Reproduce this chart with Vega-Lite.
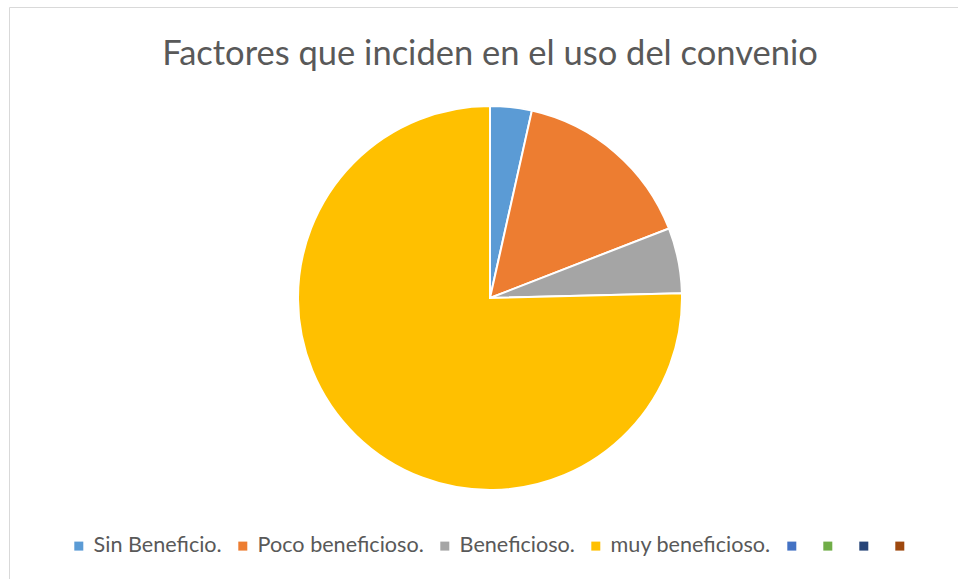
{
  "$schema": "https://vega.github.io/schema/vega-lite/v6.json",
  "autosize": {"type": "none"},
  "padding": {"left": 9, "top": 7, "right": 0, "bottom": 0},
  "width": 962,
  "height": 582,
  "background": "white",
  "view": {"stroke": "#D9D9D9", "strokeWidth": 1},
  "title": {
    "text": "Factores que inciden en el uso del convenio",
    "font": "Lato",
    "fontSize": 34.5,
    "fontWeight": "normal",
    "color": "#595959",
    "anchor": "middle",
    "baseline": "alphabetic",
    "offset": -92
  },
  "data": {
    "values": [
      {"idx": 1, "cat": "Sin Beneficio.", "val": 3.5},
      {"idx": 2, "cat": "Poco beneficioso.", "val": 15.6},
      {"idx": 3, "cat": "Beneficioso.", "val": 5.5},
      {"idx": 4, "cat": "muy beneficioso.", "val": 75.4},
      {"idx": 5, "cat": "_5", "val": 0},
      {"idx": 6, "cat": "_6", "val": 0},
      {"idx": 7, "cat": "_7", "val": 0},
      {"idx": 8, "cat": "_8", "val": 0}
    ]
  },
  "mark": {"type": "arc", "outerRadius": 192, "stroke": "white", "strokeWidth": 2},
  "encoding": {
    "theta": {"field": "val", "type": "quantitative", "stack": true},
    "order": {"field": "idx", "type": "quantitative"},
    "color": {
      "field": "cat",
      "type": "nominal",
      "scale": {
        "domain": ["Sin Beneficio.", "Poco beneficioso.", "Beneficioso.", "muy beneficioso.", "_5", "_6", "_7", "_8"],
        "range": ["#5B9BD5", "#ED7D31", "#A5A5A5", "#FFC000", "#4472C4", "#70AD47", "#264478", "#9E480E"]
      },
      "legend": {
        "title": null,
        "orient": "none",
        "direction": "horizontal",
        "legendX": 59,
        "legendY": 528,
        "symbolType": "square",
        "symbolSize": 81,
        "symbolStrokeWidth": 0,
        "labelFont": "Lato",
        "labelFontSize": 21.6,
        "labelColor": "#595959",
        "labelOffset": 4,
        "columnPadding": 10,
        "labelLimit": 400,
        "labelExpr": "slice(datum.label,0,1)=='_' ? '' : datum.label"
      }
    }
  }
}
